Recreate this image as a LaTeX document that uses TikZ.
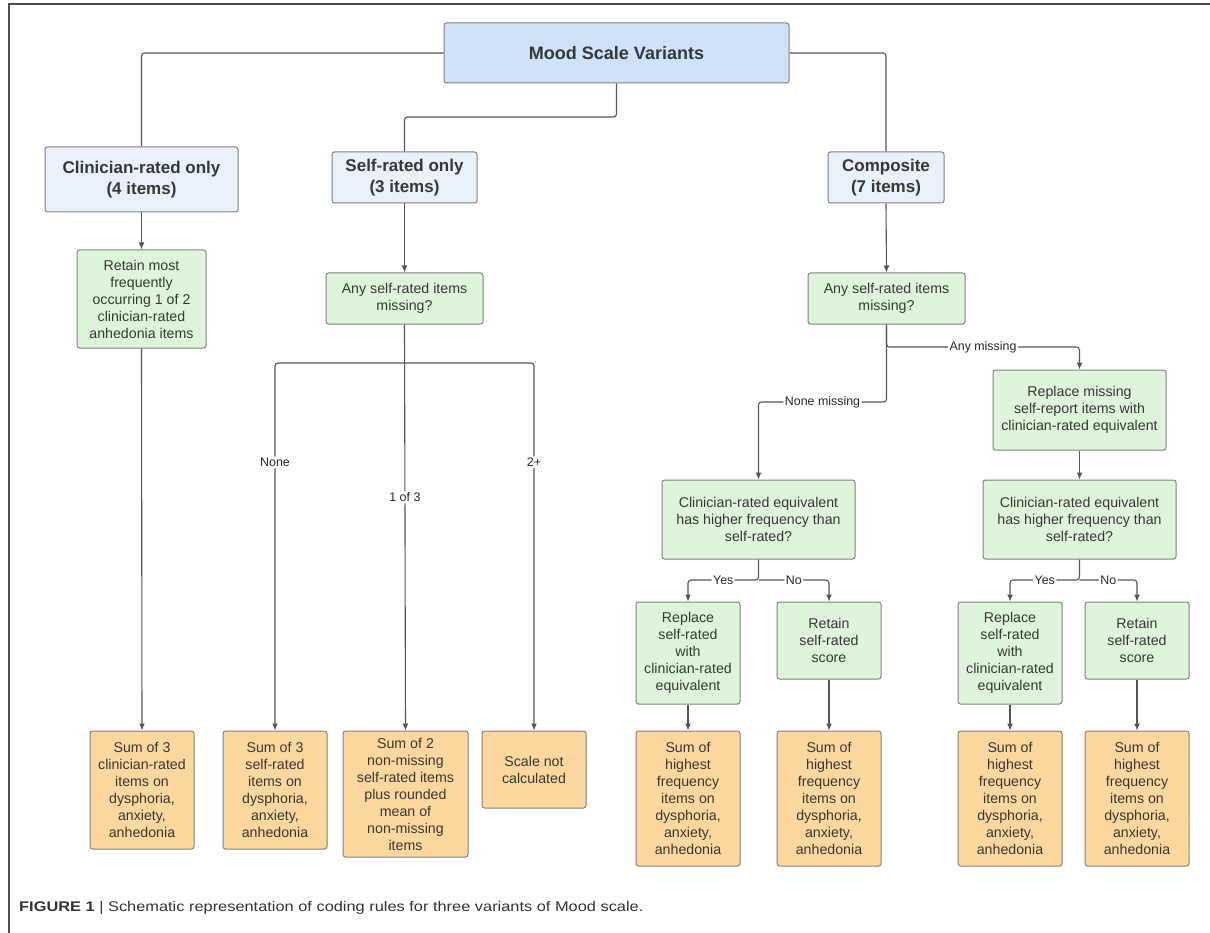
\documentclass[tikz,border=0pt]{standalone}
\usepackage{fontspec}
\setmainfont{Liberation Sans}
\usetikzlibrary{arrows.meta}
\definecolor{titlefill}{RGB}{207,226,248}
\definecolor{headfill}{RGB}{233,241,251}
\definecolor{greenfill}{RGB}{223,245,219}
\definecolor{orangefill}{RGB}{252,215,158}
\definecolor{boxline}{RGB}{128,128,128}
\definecolor{conn}{RGB}{85,85,85}
\definecolor{txt}{RGB}{55,55,55}
\begin{document}
\begin{tikzpicture}[x=1pt,y=-1pt,
  base/.style={draw=boxline, line width=1pt, rounded corners=2.5pt, align=center,
    text=txt, inner sep=0pt, font=\fontsize{14.2}{17}\selectfont},
  titlebox/.style={base, fill=titlefill, font=\fontsize{18}{21}\selectfont\bfseries},
  headbox/.style={base, fill=headfill, font=\fontsize{17}{20.5}\selectfont\bfseries},
  greenbox/.style={base, fill=greenfill},
  orangebox/.style={base, fill=orangefill},
  conn/.style={draw=conn, line width=1.1pt, rounded corners=3pt},
  arr/.style={conn, -{Latex[length=7pt,width=6pt]}},
  lab/.style={fill=white, inner sep=1.5pt, text=black!85, font=\fontsize{12.4}{14}\selectfont},
  frame/.style={draw=black!70, line width=2pt}
]
\useasboundingbox (0,0) rectangle (1210,933);
\draw[frame] (8.5,933) -- (8.5,4) -- (1210,4);

% top level
\node[titlebox, minimum width=345pt, minimum height=60pt] (title) at (616.5,53) {Mood Scale Variants};
\node[headbox, minimum width=193pt, minimum height=65pt] (clin) at (141.5,179.5) {Clinician-rated only\\(4 items)};
\node[headbox, minimum width=145pt, minimum height=51pt] (self) at (404.5,177.5) {Self-rated only\\(3 items)};
\node[headbox, minimum width=116pt, minimum height=51pt] (comp) at (886,177.5) {Composite\\(7 items)};

% second level
\node[greenbox, minimum width=129pt, minimum height=98pt] (retain) at (141.5,299) {Retain most\\frequently\\occurring 1 of 2\\clinician-rated\\anhedonia items};
\node[greenbox, minimum width=157pt, minimum height=51pt] (anyS) at (404.5,298.5) {Any self-rated items\\missing?};
\node[greenbox, minimum width=157pt, minimum height=51pt] (anyC) at (886.5,298.5) {Any self-rated items\\missing?};
\node[greenbox, minimum width=173pt, minimum height=80pt] (replMiss) at (1079.5,410) {Replace missing\\self-report items with\\clinician-rated equivalent};
\node[greenbox, minimum width=193pt, minimum height=79pt] (eqL) at (758.5,519.5) {Clinician-rated equivalent\\has higher frequency than\\self-rated?};
\node[greenbox, minimum width=193pt, minimum height=79pt] (eqR) at (1079.5,519.5) {Clinician-rated equivalent\\has higher frequency than\\self-rated?};
\node[greenbox, minimum width=104pt, minimum height=102pt] (repL) at (688,653) {Replace\\self-rated\\with\\clinician-rated\\equivalent};
\node[greenbox, minimum width=104pt, minimum height=77pt] (retL) at (829,640.5) {Retain\\self-rated\\score};
\node[greenbox, minimum width=104pt, minimum height=102pt] (repR) at (1010,653) {Replace\\self-rated\\with\\clinician-rated\\equivalent};
\node[greenbox, minimum width=104pt, minimum height=77pt] (retR) at (1137,640.5) {Retain\\self-rated\\score};

% bottom results
\node[orangebox, minimum width=104pt, minimum height=118pt] (sumA) at (142,790) {Sum of 3\\clinician-rated\\items on\\dysphoria,\\anxiety,\\anhedonia};
\node[orangebox, minimum width=104pt, minimum height=118pt] (sumB) at (275,790) {Sum of 3\\self-rated\\items on\\dysphoria,\\anxiety,\\anhedonia};
\node[orangebox, minimum width=125pt, minimum height=126pt] (sumC) at (405.5,794) {Sum of 2\\non-missing\\self-rated items\\plus rounded\\mean of\\non-missing\\items};
\node[orangebox, minimum width=104pt, minimum height=77pt] (sumD) at (534,769.5) {Scale not\\calculated};
\node[orangebox, minimum width=104pt, minimum height=135pt] (hf1) at (688,798.5) {Sum of\\highest\\frequency\\items on\\dysphoria,\\anxiety,\\anhedonia};
\node[orangebox, minimum width=104pt, minimum height=135pt] (hf2) at (829,798.5) {Sum of\\highest\\frequency\\items on\\dysphoria,\\anxiety,\\anhedonia};
\node[orangebox, minimum width=104pt, minimum height=135pt] (hf3) at (1010,798.5) {Sum of\\highest\\frequency\\items on\\dysphoria,\\anxiety,\\anhedonia};
\node[orangebox, minimum width=104pt, minimum height=135pt] (hf4) at (1137,798.5) {Sum of\\highest\\frequency\\items on\\dysphoria,\\anxiety,\\anhedonia};

% junctions
\coordinate (tM) at (616.5,117);
\coordinate (jS) at (404.5,363);
\coordinate (jC1) at (886.5,347);
\coordinate (jC2) at (886.5,402);
\coordinate (jEL) at (758.5,580);
\coordinate (jER) at (1079.5,580);

% top connectors
\draw[conn] (title.west) -| (clin.north);
\draw[conn] (title.east) -| (comp.north);
\draw[conn] (title.south) -- (tM) -| (self.north);

% clinician column
\draw[arr] (clin.south) -- (retain.north);
\draw[arr] (retain.south) -- (sumA.north);

% self column
\draw[arr] (self.south) -- (anyS.north);
\draw[conn] (anyS.south) -- (jS);
\draw[arr] (jS) -| node[lab, pos=0.635] {None} (sumB.north);
\draw[arr] (anyS.south) -- node[lab, pos=0.425] {1 of 3} (sumC.north);
\draw[arr] (jS) -| node[lab, pos=0.635] {2+} (sumD.north);

% composite column
\draw[arr] (comp.south) -- (anyC.north);
\draw[arr] (anyC.south) -- (jC1) -| node[lab, pos=0.25] {Any missing} (replMiss.north);
\draw[arr] (anyC.south) -- (jC2) -| node[lab, pos=0.25] {None missing} (eqL.north);
\draw[arr] (replMiss.south) -- (eqR.north);
\draw[arr] (eqL.south) -- (jEL) -| node[lab, pos=0.25] {Yes} (repL.north);
\draw[arr] (jEL) -| node[lab, pos=0.25] {No} (retL.north);
\draw[arr] (eqR.south) -- (jER) -| node[lab, pos=0.25] {Yes} (repR.north);
\draw[arr] (jER) -| node[lab, pos=0.25] {No} (retR.north);
\draw[arr] (repL.south) -- (hf1.north);
\draw[arr] (retL.south) -- (hf2.north);
\draw[arr] (repR.south) -- (hf3.north);
\draw[arr] (retR.south) -- (hf4.north);

% caption
\node[anchor=west, inner sep=0pt, text=black!80, font=\fontsize{14}{16}\selectfont] (cap) at (19,908)
  {\scalebox{1.17}[1]{\textbf{FIGURE 1} | Schematic representation of coding rules for three variants of Mood scale.}};
\end{tikzpicture}
\end{document}
